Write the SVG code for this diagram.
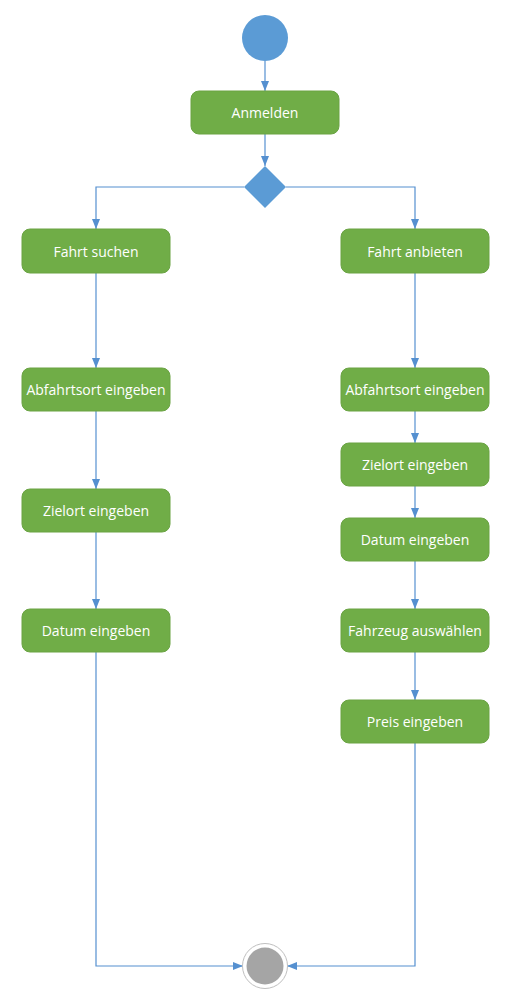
<svg xmlns="http://www.w3.org/2000/svg" width="510" height="998" viewBox="0 0 510 998">
<style>
.act{fill:#70ad47;stroke:#6aa343;stroke-width:1}
.lbl{font-family:"Open Sans","Noto Sans",sans-serif;font-size:14px;fill:#ffffff;text-anchor:middle;dominant-baseline:central}
.con{fill:none;stroke:#5590d0;stroke-width:1.2}
</style>
<defs>
<marker id="arr" markerUnits="userSpaceOnUse" markerWidth="10" markerHeight="10" viewBox="0 0 10 10" refX="10" refY="5" orient="auto">
<path d="M0,1 L10,5 L0,9 Z" fill="#5590d0"/>
</marker>
</defs>
<rect width="510" height="998" fill="#ffffff"/>
<g id="connectors">
<path class="con" d="M265,61 V91" marker-end="url(#arr)"/>
<path class="con" d="M265,134 V166" marker-end="url(#arr)"/>
<path class="con" d="M244,187 H96 V229" marker-end="url(#arr)"/>
<path class="con" d="M286,187 H415 V229" marker-end="url(#arr)"/>
<path class="con" d="M96,273 V368" marker-end="url(#arr)"/>
<path class="con" d="M96,411 V489" marker-end="url(#arr)"/>
<path class="con" d="M96,532 V609" marker-end="url(#arr)"/>
<path class="con" d="M96,652 V966 H243" marker-end="url(#arr)"/>
<path class="con" d="M415,273 V368" marker-end="url(#arr)"/>
<path class="con" d="M415,411 V443" marker-end="url(#arr)"/>
<path class="con" d="M415,486 V518" marker-end="url(#arr)"/>
<path class="con" d="M415,561 V609" marker-end="url(#arr)"/>
<path class="con" d="M415,652 V700" marker-end="url(#arr)"/>
<path class="con" d="M415,743 V966 H287" marker-end="url(#arr)"/>
</g>
<g id="start"><circle cx="265" cy="38" r="23" fill="#5b9bd5"/></g>
<g id="anmelden"><rect class="act" x="191" y="91" width="148" height="43" rx="8"/><text class="lbl" x="265" y="112.5">Anmelden</text></g>
<g id="decision"><path d="M265,166 L286,187 L265,208 L244,187 Z" fill="#5b9bd5"/></g>
<g id="fahrt-suchen"><rect class="act" x="22" y="229" width="148" height="44" rx="8"/><text class="lbl" x="96" y="251">Fahrt suchen</text></g>
<g id="abfahrtsort-l"><rect class="act" x="22" y="368" width="148" height="43" rx="8"/><text class="lbl" x="96" y="389.5">Abfahrtsort eingeben</text></g>
<g id="zielort-l"><rect class="act" x="22" y="489" width="148" height="43" rx="8"/><text class="lbl" x="96" y="510.5">Zielort eingeben</text></g>
<g id="datum-l"><rect class="act" x="22" y="609" width="148" height="43" rx="8"/><text class="lbl" x="96" y="630.5">Datum eingeben</text></g>
<g id="fahrt-anbieten"><rect class="act" x="341" y="229" width="148" height="44" rx="8"/><text class="lbl" x="415" y="251">Fahrt anbieten</text></g>
<g id="abfahrtsort-r"><rect class="act" x="341" y="368" width="148" height="43" rx="8"/><text class="lbl" x="415" y="389.5">Abfahrtsort eingeben</text></g>
<g id="zielort-r"><rect class="act" x="341" y="443" width="148" height="43" rx="8"/><text class="lbl" x="415" y="464.5">Zielort eingeben</text></g>
<g id="datum-r"><rect class="act" x="341" y="518" width="148" height="43" rx="8"/><text class="lbl" x="415" y="539.5">Datum eingeben</text></g>
<g id="fahrzeug"><rect class="act" x="341" y="609" width="148" height="43" rx="8"/><text class="lbl" x="415" y="630.5">Fahrzeug auswählen</text></g>
<g id="preis"><rect class="act" x="341" y="700" width="148" height="43" rx="8"/><text class="lbl" x="415" y="721.5">Preis eingeben</text></g>
<g id="end"><circle cx="265" cy="966" r="22.5" fill="#ffffff" stroke="#bfbfbf" stroke-width="1"/><circle cx="265" cy="966" r="18.5" fill="#a5a5a5"/></g>
</svg>
